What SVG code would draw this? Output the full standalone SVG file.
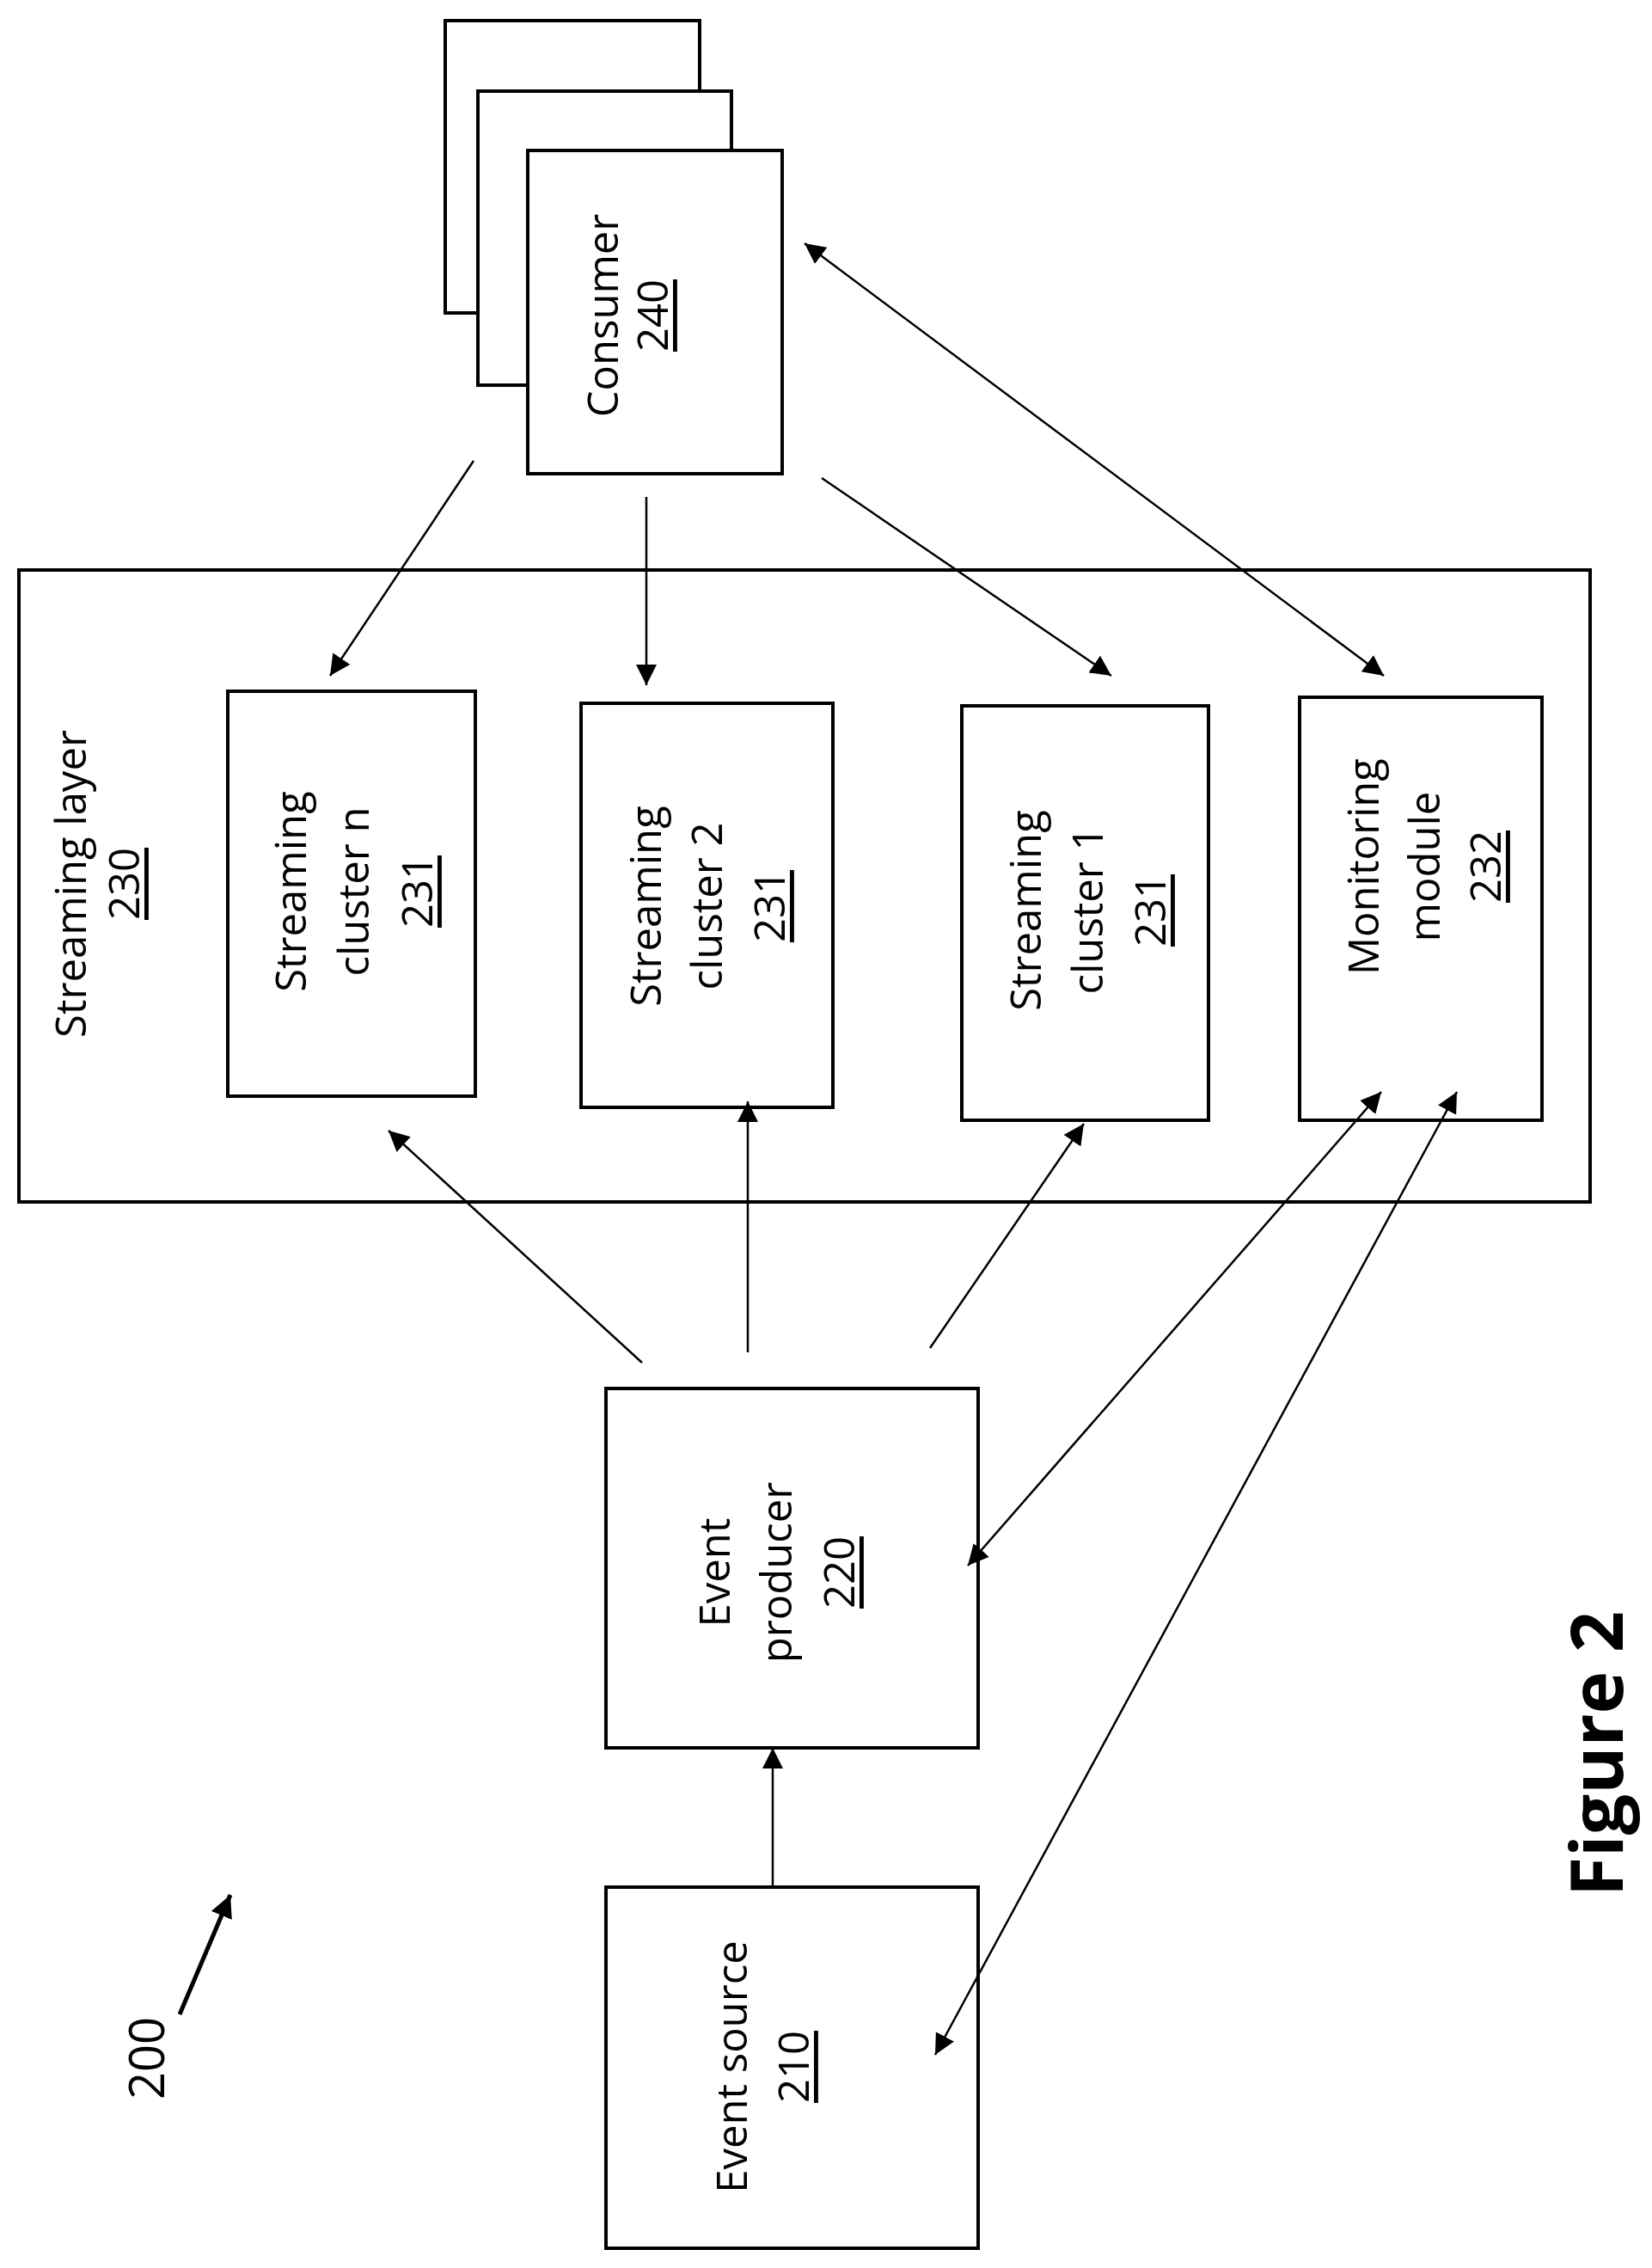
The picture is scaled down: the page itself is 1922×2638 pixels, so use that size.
<svg xmlns="http://www.w3.org/2000/svg" width="1922" height="2638" viewBox="0 0 1922 2638">
<style>
.b{fill:#fff;stroke:#000;stroke-width:4}
.t{font-family:"Open Sans","Liberation Sans",sans-serif;font-size:49px;text-anchor:middle;dominant-baseline:central}
.u{text-decoration:underline}
.c line{stroke:#000;stroke-width:2.5}
</style>
<defs>
<marker id="a" viewBox="0 0 10 10" refX="10" refY="5" markerWidth="24" markerHeight="24" markerUnits="userSpaceOnUse" orient="auto-start-reverse"><path d="M0,0L10,5L0,10z"/></marker>
<marker id="A" viewBox="0 0 10 10" refX="10" refY="5" markerWidth="26" markerHeight="26" markerUnits="userSpaceOnUse" orient="auto-start-reverse"><path d="M0,0L10,5L0,10z"/></marker>
</defs>
<g id="layer"><rect class="b" x="22" y="663" width="1828" height="735"/>
<text class="t" transform="translate(81,1028) rotate(-90)">Streaming layer</text>
<text class="t u" transform="translate(143,1028) rotate(-90)">230</text></g>
<g id="consumer">
<rect class="b" x="518" y="24" width="296" height="340"/>
<rect class="b" x="556" y="106" width="295" height="342"/>
<rect class="b" x="614" y="175" width="296" height="376"/>
<text class="t" transform="translate(700,367) rotate(-90)">Consumer</text>
<text class="t u" transform="translate(758,367) rotate(-90)">240</text></g>
<g id="clusterN"><rect class="b" x="265" y="804" width="288" height="471"/>
<text class="t" transform="translate(337,1037) rotate(-90)">Streaming</text>
<text class="t" transform="translate(410,1037) rotate(-90)">cluster n</text>
<text class="t u" transform="translate(484,1037) rotate(-90)">231</text></g>
<g id="cluster2"><rect class="b" x="676" y="818" width="293" height="470"/>
<text class="t" transform="translate(750,1054) rotate(-90)">Streaming</text>
<text class="t" transform="translate(821,1054) rotate(-90)">cluster 2</text>
<text class="t u" transform="translate(894,1054) rotate(-90)">231</text></g>
<g id="cluster1"><rect class="b" x="1119" y="821" width="287" height="482"/>
<text class="t" transform="translate(1192,1059) rotate(-90)">Streaming</text>
<text class="t" transform="translate(1264,1059) rotate(-90)">cluster 1</text>
<text class="t u" transform="translate(1337,1059) rotate(-90)">231</text></g>
<g id="monitor"><rect class="b" x="1512" y="811" width="282" height="492"/>
<text class="t" transform="translate(1585,1008) rotate(-90)">Monitoring</text>
<text class="t" transform="translate(1656,1008) rotate(-90)">module</text>
<text class="t u" transform="translate(1727,1008) rotate(-90)">232</text></g>
<g id="producer"><rect class="b" x="705" y="1615" width="433" height="418"/>
<text class="t" transform="translate(830,1829) rotate(-90)">Event</text>
<text class="t" transform="translate(902,1829) rotate(-90)">producer</text>
<text class="t u" transform="translate(975,1829) rotate(-90)">220</text></g>
<g id="source"><rect class="b" x="705" y="2195" width="433" height="420"/>
<text class="t" transform="translate(850,2404) rotate(-90)">Event source</text>
<text class="t u" transform="translate(922,2404) rotate(-90)">210</text></g>
<g class="c" id="connectors">
<line x1="551" y1="536" x2="384" y2="786" marker-end="url(#a)"/>
<line x1="752" y1="578" x2="752" y2="797" marker-end="url(#a)"/>
<line x1="956" y1="556" x2="1293" y2="786" marker-end="url(#a)"/>
<line x1="936" y1="283" x2="1610" y2="786" marker-start="url(#a)" marker-end="url(#a)"/>
<line x1="747" y1="1585" x2="452" y2="1315" marker-end="url(#a)"/>
<line x1="870" y1="1573" x2="870" y2="1281" marker-end="url(#a)"/>
<line x1="1082" y1="1568" x2="1261" y2="1307" marker-end="url(#a)"/>
<line x1="1126" y1="1821" x2="1607" y2="1270" marker-start="url(#a)" marker-end="url(#a)"/>
<line x1="1088" y1="2390" x2="1695" y2="1270" marker-start="url(#a)" marker-end="url(#a)"/>
<line x1="899" y1="2195" x2="899" y2="2033" marker-end="url(#a)"/>
<line x1="209" y1="2343" x2="268" y2="2204" style="stroke-width:5" marker-end="url(#A)"/>
</g>
<text class="t" style="font-size:56px" transform="translate(169,2394) rotate(-90)">200</text>
<text class="t" style="font-size:84px;font-weight:bold" transform="translate(1855,2040) rotate(-90)">Figure 2</text>
</svg>
